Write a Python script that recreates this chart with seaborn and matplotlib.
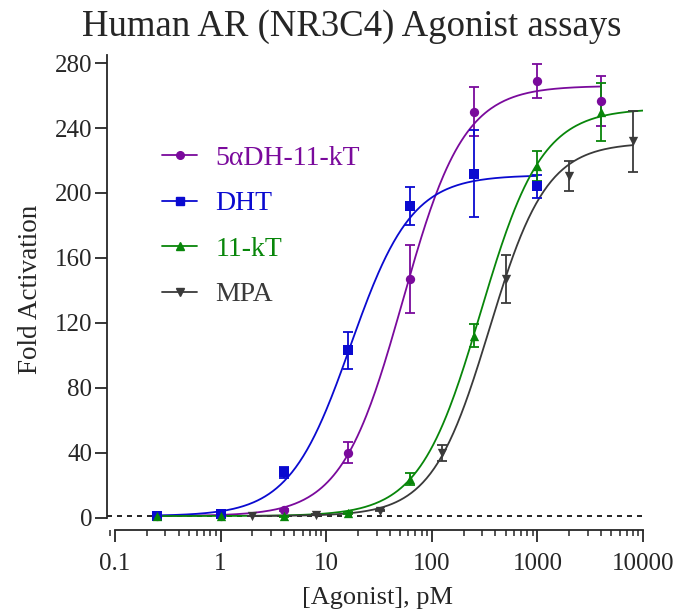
import numpy as np
import pandas as pd
import matplotlib
matplotlib.use("Agg")
import matplotlib.pyplot as plt
import seaborn as sns
from matplotlib.lines import Line2D
from matplotlib.ticker import FixedLocator, LogLocator, FuncFormatter, NullFormatter

# data (mean +/- SEM, fold activation)
CONC = [0.25, 1, 4, 16, 62.5, 250, 1000, 4000]
MPA_CONC = [2, 8, 32, 125, 500, 2000, 8000]

DH11KT_MEAN = [1.0, 1.2, 4.7, 40.0, 147.0, 250.0, 269.0, 256.5]
DH11KT_SEM = [0.3, 0.3, 0.8, 6.4, 21.0, 15.0, 10.7, 15.5]
DHT_MEAN = [1.0, 2.5, 27.9, 103.0, 192.0, 212.0, 204.0]
DHT_SEM = [0.3, 0.5, 3.5, 11.5, 11.5, 27.0, 7.0]
KT11_MEAN = [1.0, 1.0, 1.0, 3.0, 23.6, 112.0, 216.6, 250.0]
KT11_SEM = [0.2, 0.2, 0.3, 0.5, 3.7, 7.0, 9.0, 18.0]
MPA_MEAN = [1.0, 1.7, 4.3, 39.6, 147.0, 210.5, 231.8]
MPA_SEM = [0.2, 0.3, 0.5, 5.0, 14.5, 9.0, 19.0]

LABELS = ["5\u03b1DH-11-kT", "DHT", "11-kT", "MPA"]
COLORS = ["#7a0a9c", "#0a0ad0", "#08860a", "#3a3a3a"]
MARKERS = ["o", "s", "^", "v"]

# 4PL fit parameters estimated from the drawn curves
FIT_BOTTOM = [1.0, 1.0, 1.0, 1.0]
FIT_TOP = [266.0, 211.0, 252.0, 231.0]
FIT_EC50 = [53.0, 17.0, 290.0, 350.0]
FIT_HILL = [1.5, 1.5, 1.5, 1.6]
FIT_XMIN = [0.25, 0.25, 0.25, 2.0]
FIT_XMAX = [4000.0, 1000.0, 10000.0, 8000.0]

XTICKS = [0.1, 1, 10, 100, 1000, 10000]
YTICKS = [0, 40, 80, 120, 160, 200, 240, 280]

sns.set_style("ticks")
plt.rcParams['font.family'] = ['Liberation Serif', 'DejaVu Serif']

pts = pd.concat([
    pd.DataFrame({'conc': CONC, 'mean': DH11KT_MEAN, 'sem': DH11KT_SEM, 'agonist': LABELS[0]}),
    pd.DataFrame({'conc': CONC[:7], 'mean': DHT_MEAN, 'sem': DHT_SEM, 'agonist': LABELS[1]}),
    pd.DataFrame({'conc': CONC, 'mean': KT11_MEAN, 'sem': KT11_SEM, 'agonist': LABELS[2]}),
    pd.DataFrame({'conc': MPA_CONC, 'mean': MPA_MEAN, 'sem': MPA_SEM, 'agonist': LABELS[3]}),
], ignore_index=True)

curves = []
for i, lab in enumerate(LABELS):
    xx = np.logspace(np.log10(FIT_XMIN[i]), np.log10(FIT_XMAX[i]), 300)
    yy = FIT_BOTTOM[i] + (FIT_TOP[i] - FIT_BOTTOM[i]) / (1 + (FIT_EC50[i] / xx) ** FIT_HILL[i])
    curves.append(pd.DataFrame({'conc': xx, 'fit': yy, 'agonist': lab}))
curves = pd.concat(curves, ignore_index=True)

palette = dict(zip(LABELS, COLORS))

fig = plt.figure(figsize=(6.78, 6.14), dpi=100)
ax = fig.add_axes([107/678, 1 - 530/614, (643-107)/678, (530-55)/614])

ax.axhline(1, color='black', lw=1.2, ls=(0, (3, 3)), zorder=1)

sns.lineplot(data=curves, x='conc', y='fit', hue='agonist', palette=palette,
             lw=1.3, legend=False, ax=ax, zorder=2)

for i, lab in enumerate(LABELS):
    sub = pts[pts['agonist'] == lab]
    ax.errorbar(sub['conc'], sub['mean'], yerr=sub['sem'], fmt='none',
                ecolor=COLORS[i], elinewidth=1.3, capsize=3.5, capthick=1.3, zorder=3)

for i, lab in enumerate(LABELS):
    sub = pts[pts['agonist'] == lab]
    sns.scatterplot(data=sub, x='conc', y='mean', color=COLORS[i], marker=MARKERS[i],
                    s=45, edgecolor=COLORS[i], linewidth=0, legend=False, ax=ax, zorder=4)

ax.set_xscale('log')
ax.set_xlim(0.084, 10000)
ax.set_ylim(-7.6, 285)

sns.despine(ax=ax)
ax.spines['left'].set_bounds(0, 285)
ax.spines['bottom'].set_bounds(0.1, 10000)
for s in ['left', 'bottom']:
    ax.spines[s].set_linewidth(1.3)

ax.xaxis.set_major_locator(FixedLocator(XTICKS))
ax.xaxis.set_major_formatter(FuncFormatter(lambda v, p: f"{v:g}"))
ax.xaxis.set_minor_locator(LogLocator(base=10, subs=np.arange(2, 10)))
ax.xaxis.set_minor_formatter(NullFormatter())
ax.yaxis.set_major_locator(FixedLocator(YTICKS))

ax.tick_params(axis='both', which='major', length=8.5, width=1.3, labelsize=18, direction='out')
ax.tick_params(axis='x', which='minor', length=4.5, width=1.1, direction='out')
ax.tick_params(axis='x', which='major', pad=8)
ax.tick_params(axis='y', which='major', pad=2)
ax.set_xlabel('')
ax.set_ylabel('')

fig.text(352/678, 1 - 36/614, 'Human AR (NR3C4) Agonist assays', fontsize=26.5,
         ha='center', va='baseline')
fig.text(378/678, 1 - 604/614, '[Agonist], pM', fontsize=19, ha='center', va='baseline')
fig.text(31/678, 1 - 289/614, 'Fold Activation', fontsize=19.5, rotation=90,
         ha='center', va='center')

handles = [Line2D([0], [0], color=c, marker=m, lw=1.3, markersize=5.5)
           for c, m in zip(COLORS, MARKERS)]
leg = ax.legend(handles, LABELS, loc='upper left', bbox_to_anchor=(143/678, 1 - 126/614),
                bbox_transform=fig.transFigure, frameon=False, fontsize=20,
                handlelength=1.25, handletextpad=0.65, labelspacing=0.72, borderpad=0.2)
for t, c in zip(leg.get_texts(), COLORS):
    t.set_color(c)

fig.savefig('out.png', dpi=100)
